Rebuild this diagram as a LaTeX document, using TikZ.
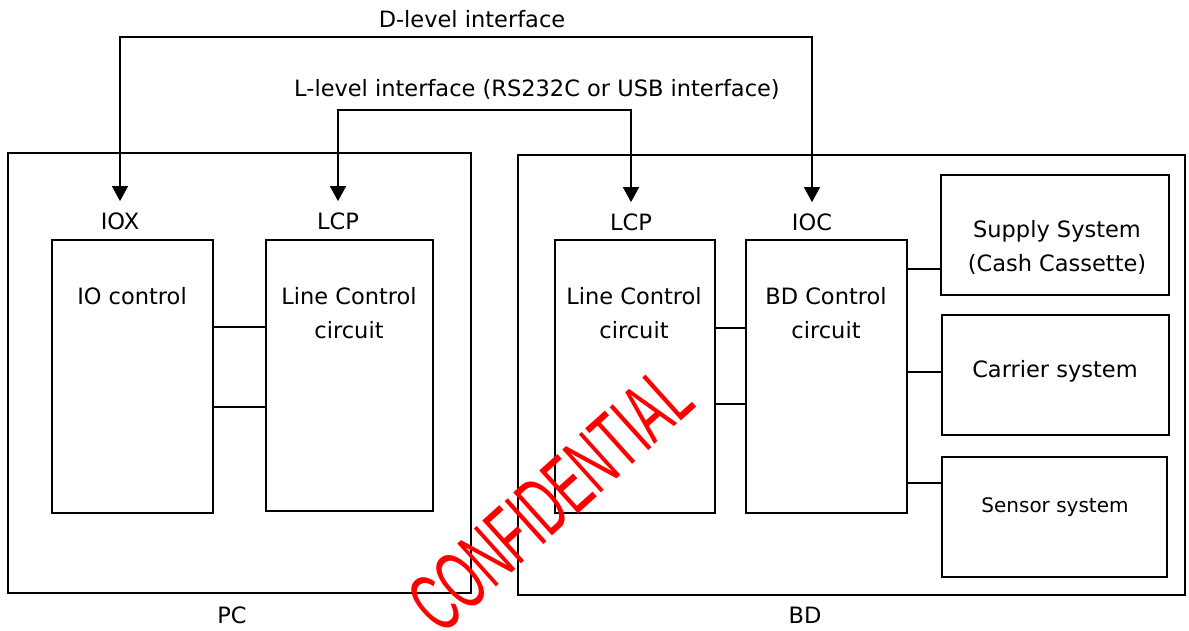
\documentclass[tikz,border=0pt]{standalone}
\usepackage{fontspec}
\setmainfont{DejaVu Sans}
\newfontfamily\stampfont{Liberation Sans}
\usetikzlibrary{arrows.meta,fit}
\begin{document}
\begin{tikzpicture}[x=1pt,y=-1pt,
  box/.style={draw, line width=1.3pt, inner sep=0pt, fit={#1}},
  txt/.style={font=\fontsize{22.5}{34}\selectfont, inner sep=0pt, align=center},
  smalltxt/.style={font=\fontsize{20}{24}\selectfont, inner sep=0pt},
  wire/.style={line width=1.3pt},
  bus/.style={line width=1.3pt,
    {Triangle[width=16pt,length=15pt]}-{Triangle[width=16pt,length=15pt]},
    shorten <=11pt, shorten >=11pt},
  stamp/.style={text=red, font=\stampfont\fontsize{84}{84}\selectfont,
    inner sep=0pt, rotate=42, xscale=0.56},
]
\useasboundingbox (0,0) rectangle (1189,630);

% outer units
\node[box={(8,153) (471,593)}] (pc) {};
\node[box={(518,155) (1185,595)}] (bd) {};
\node[txt] (pclabel) at (232,615) {PC};
\node[txt] (bdlabel) at (805,615) {BD};

% PC internals
\node[box={(52,240) (213,513)}] (ioctl) {};
\node[box={(266,240) (433,511)}] (lcpa) {};
\node[txt] (ioctltext) at (132,296) {IO control};
\node[txt] (lcpatext) at (349,313) {Line Control\\circuit};
\node[txt, anchor=base] (iox) at (120,229) {IOX};
\node[txt, anchor=base] (lcpalbl) at (338,229) {LCP};

% BD internals
\node[box={(555,240) (715,513)}] (lcpb) {};
\node[box={(746,240) (907,513)}] (bdctl) {};
\node[txt] (lcpbtext) at (634,313) {Line Control\\circuit};
\node[txt] (bdctltext) at (826,313) {BD Control\\circuit};
\node[txt, anchor=base] (lcpblbl) at (631,230) {LCP};
\node[txt, anchor=base] (ioc) at (812,230) {IOC};

\node[box={(941,175) (1169,295)}] (supply) {};
\node[box={(942,315) (1169,435)}] (carrier) {};
\node[box={(942,457) (1167,577)}] (sensor) {};
\node[txt] (supplytext) at (1057,247) {Supply System\\(Cash Cassette)};
\node[txt] (carriertext) at (1055,371) {Carrier system};
\node[smalltxt] (sensortext) at (1055,507) {Sensor system};

% internal wiring
\draw[wire] (ioctl.east |- 0,327) -- (lcpa.west |- 0,327);
\draw[wire] (ioctl.east |- 0,407) -- (lcpa.west |- 0,407);
\draw[wire] (lcpb.east |- 0,328) -- (bdctl.west |- 0,328);
\draw[wire] (lcpb.east |- 0,404) -- (bdctl.west |- 0,404);
\draw[wire] (bdctl.east |- 0,269) -- (supply.west |- 0,269);
\draw[wire] (bdctl.east |- 0,372) -- (carrier.west |- 0,372);
\draw[wire] (bdctl.east |- 0,483) -- (sensor.west |- 0,483);

% external interfaces
\coordinate (dleft) at (120,37);
\coordinate (dright) at (812,37);
\coordinate (lleft) at (338,110);
\coordinate (lright) at (631,110);
\draw[bus] (iox.north) -- (dleft) -- (dright) -- (ioc.north);
\draw[bus] (lcpalbl.north) -- (lleft) -- (lright) -- (lcpblbl.north);
\node[txt] (dlevel) at (472,19) {D-level interface};
\node[txt] (llevel) at (537,89) {L-level interface (RS232C or USB interface)};

% watermark
\node[stamp] (conf) at (550,500) {CONFIDENTIAL};
\end{tikzpicture}
\end{document}
